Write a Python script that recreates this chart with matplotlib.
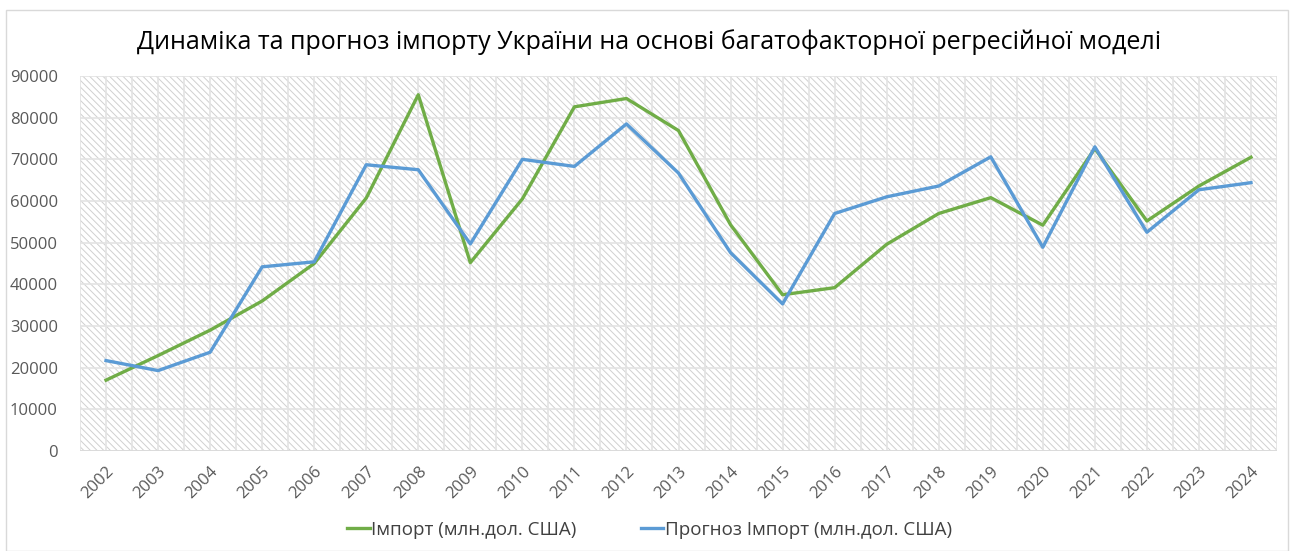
import matplotlib
matplotlib.use("Agg")
import matplotlib.pyplot as plt
from matplotlib.patches import Rectangle
import numpy as np

plt.rcParams['font.family'] = ['Open Sans', 'DejaVu Sans']
plt.rcParams['hatch.color'] = '#d0d0d0'
plt.rcParams['hatch.linewidth'] = 0.7

years = ['2002', '2003', '2004', '2005', '2006', '2007', '2008', '2009', '2010', '2011', '2012',
         '2013', '2014', '2015', '2016', '2017', '2018', '2019', '2020', '2021', '2022', '2023', '2024']
import_vals = [17000, 22900, 29000, 36000, 45000, 60700, 85500, 45200, 60500, 82600, 84600,
               76900, 54300, 37500, 39200, 49600, 57000, 60800, 54200, 72600, 55200, 63600, 70500]
forecast_vals = [21700, 19300, 23700, 44200, 45400, 68700, 67500, 49700, 70000, 68300, 78500,
                 66700, 47600, 35300, 57000, 61000, 63600, 70600, 48900, 73000, 52500, 62700, 64400]
yticks = [0, 10000, 20000, 30000, 40000, 50000, 60000, 70000, 80000, 90000]
title = 'Динаміка та прогноз імпорту України на основі багатофакторної регресійної моделі'
label_import = 'Імпорт (млн.дол. США)'
label_forecast = 'Прогноз Імпорт (млн.дол. США)'

W, H = 1299, 551
fig = plt.figure(figsize=(W / 100, H / 100), dpi=100)
fig.patch.set_facecolor('white')
fig.patches.append(Rectangle((6 / W, 0), (1288 - 6) / W, (H - 10) / H, transform=fig.transFigure,
                             fill=False, edgecolor='#d9d9d9', linewidth=1.0))

ax = fig.add_axes([80 / W, 1 - 451 / H, (1277 - 80) / W, (451 - 76) / H])
x = np.arange(len(years))
ax.set_xlim(-0.5, len(years) - 0.5)
ax.set_ylim(0, 90000)

# hatched background
ax.add_patch(Rectangle((0, 0), 1, 1, transform=ax.transAxes, facecolor='white',
                       hatch='\\\\\\\\\\', edgecolor='#d0d0d0', linewidth=0, zorder=0))

# gridlines: vertical at both centers and boundaries, horizontal major
for xv in np.arange(-0.5, len(years), 0.5):
    ax.axvline(xv, color='#e3e3e3', linewidth=1.2, zorder=1)
for yv in yticks:
    ax.axhline(yv, color='#e3e3e3', linewidth=1.2, zorder=1)
ax.axhline(0, color='#d9d9d9', linewidth=1.2, zorder=1)

ax.plot(x, import_vals, color='#70ad47', linewidth=2.4, label=label_import, zorder=3,
        solid_joinstyle='round')
ax.plot(x, forecast_vals, color='#5b9bd5', linewidth=2.4, label=label_forecast, zorder=4,
        solid_joinstyle='round')

ax.set_xticks(x)
ax.set_xticklabels(years, rotation=45, ha='right', rotation_mode='anchor', fontsize=12, color='#595959')
ax.set_yticks(yticks)
ax.set_yticklabels([str(v) for v in yticks], fontsize=12, color='#595959')
ax.tick_params(axis='y', length=0, pad=16)
ax.tick_params(axis='x', length=0, pad=9)
for s in ax.spines.values():
    s.set_visible(False)

fig.text(0.5, 1 - 42 / H, title, ha='center', va='center', fontsize=18, color='#000000')

fig.legend(loc='center', bbox_to_anchor=(0.5, 1 - 530 / H), ncol=2, frameon=False,
           fontsize=13.5, handlelength=1.2, handletextpad=0.1, columnspacing=3.4,
           labelcolor='#404040')

fig.savefig('out.png', dpi=100)
